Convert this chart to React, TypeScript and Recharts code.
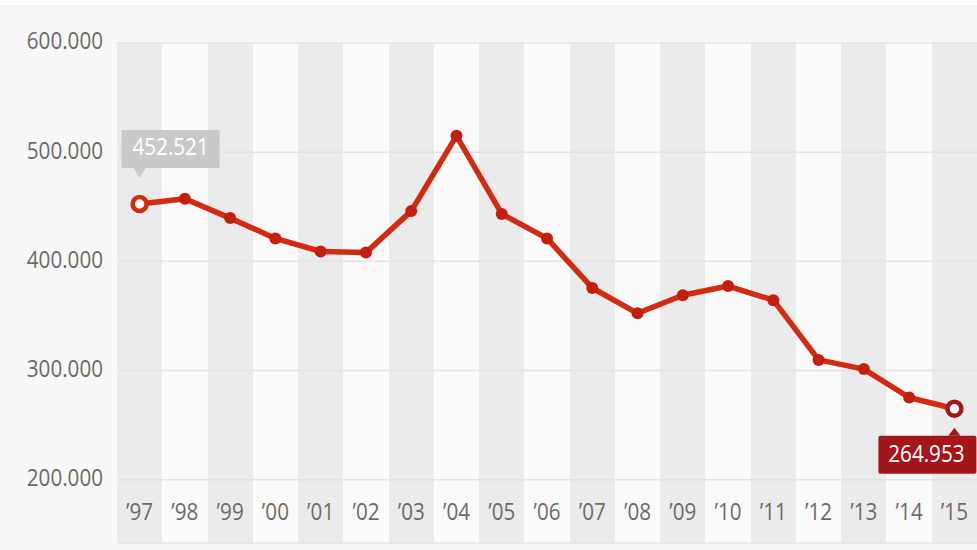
import React from 'react';
import { ComposedChart, Line, XAxis, YAxis, CartesianGrid, LabelList } from 'recharts';

const years = ['97', '98', '99', '00', '01', '02', '03', '04', '05', '06', '07', '08', '09', '10', '11', '12', '13', '14', '15'];
const values = [
  452521, 457300, 439600, 421000, 409000, 408000, 446000, 515000, 443400, 421000,
  375600, 352400, 369000, 377400, 364400, 309700, 301300, 275300, 264953,
];
const yTicks = [200000, 300000, 400000, 500000, 600000];

const data = years.map((y, i) => ({ year: '\u2019' + y, value: values[i], slot: i + 0.5 }));
const stripeTicks = Array.from({ length: years.length + 1 }, (_, i) => i);

const FONT = '"Open Sans", sans-serif';
const RED = '#d42a12';
const DARK_RED = '#a3161a';
const TEXT = '#6b6b6b';

const fmt = (v: number) => {
  const s = String(Math.round(v));
  return s.slice(0, s.length - 3) + '.' + s.slice(-3);
};

// the source uses a condensed face, squeeze Open Sans horizontally
const Narrow = ({ x, y, anchor, fill, children }: any) => (
  <text
    transform={`translate(${x},${y}) scale(0.86,1)`}
    textAnchor={anchor}
    dominantBaseline="middle"
    fill={fill}
    fontSize={24}
    fontFamily={FONT}
  >
    {children}
  </text>
);

const XTick = (props: any) => {
  const { x, y, payload } = props;
  return <Narrow x={x} y={y - 29} anchor="middle" fill={TEXT}>{payload.value}</Narrow>;
};

const YTick = (props: any) => {
  const { x, y, payload } = props;
  return <Narrow x={x} y={y} anchor="end" fill={TEXT}>{fmt(payload.value)}</Narrow>;
};

const Dot = (props: any) => {
  const { cx, cy, index } = props;
  if (index === 0) {
    return <circle key={index} cx={cx} cy={cy} r={7} fill="#fff" stroke={RED} strokeWidth={4.5} />;
  }
  if (index === values.length - 1) {
    return <circle key={index} cx={cx} cy={cy} r={7} fill="#fff" stroke={DARK_RED} strokeWidth={4.5} />;
  }
  return <circle key={index} cx={cx} cy={cy} r={6} fill="#c41f0e" />;
};

const ValueLabel = (props: any) => {
  const { x, y, value, index } = props;
  if (index === 0) {
    return (
      <g>
        <rect x={x - 18} y={y - 74} width={98} height={38} fill="#c9c9c9" />
        <polygon points={`${x - 6},${y - 36} ${x + 6},${y - 36} ${x},${y - 26}`} fill="#c9c9c9" />
        <Narrow x={x + 31} y={y - 55} anchor="middle" fill="#fff">{fmt(value)}</Narrow>
      </g>
    );
  }
  if (index === values.length - 1) {
    return (
      <g>
        <polygon points={`${x - 6},${y + 27} ${x + 6},${y + 27} ${x},${y + 19}`} fill={DARK_RED} />
        <rect x={x - 76} y={y + 27} width={98} height={38} rx={2} fill={DARK_RED} />
        <Narrow x={x - 28} y={y + 47} anchor="middle" fill="#fff">{fmt(value)}</Narrow>
      </g>
    );
  }
  return null;
};

export default function App() {
  return (
    <div style={{ position: 'absolute', left: 0, top: 0, width: 977, height: 550, background: '#f7f7f7', borderTop: '5px solid #fff', boxSizing: 'border-box', overflow: 'hidden' }}>
      <ComposedChart width={977} height={545} data={data} margin={{ top: 38, right: 0, bottom: 6, left: 0 }}>
        <CartesianGrid xAxisId="stripes" horizontal={false} vertical stroke="none" verticalFill={['#ebebeb', '#fafafa']} />
        <CartesianGrid xAxisId="stripes" vertical={false} stroke="#e3e3e3" strokeWidth={1.5} />
        <XAxis xAxisId="stripes" type="number" dataKey="slot" domain={[0, years.length]} ticks={stripeTicks} hide />
        <XAxis
          dataKey="year"
          height={1}
          axisLine={false}
          tickLine={false}
          tickSize={0}
          tickMargin={0}
          interval={0}
          padding={{ left: 22.6, right: 22.6 }}
          tick={<XTick />}
        />
        <YAxis
          width={117}
          domain={[142000, 600000]}
          ticks={yTicks}
          axisLine={false}
          tickLine={false}
          tickSize={0}
          tickMargin={14}
          tick={<YTick />}
        />
        <Line
          dataKey="value"
          stroke={RED}
          strokeWidth={5.5}
          strokeLinejoin="round"
          dot={<Dot />}
          activeDot={false}
          isAnimationActive={false}
        >
          <LabelList dataKey="value" content={<ValueLabel />} />
        </Line>
      </ComposedChart>
    </div>
  );
}
